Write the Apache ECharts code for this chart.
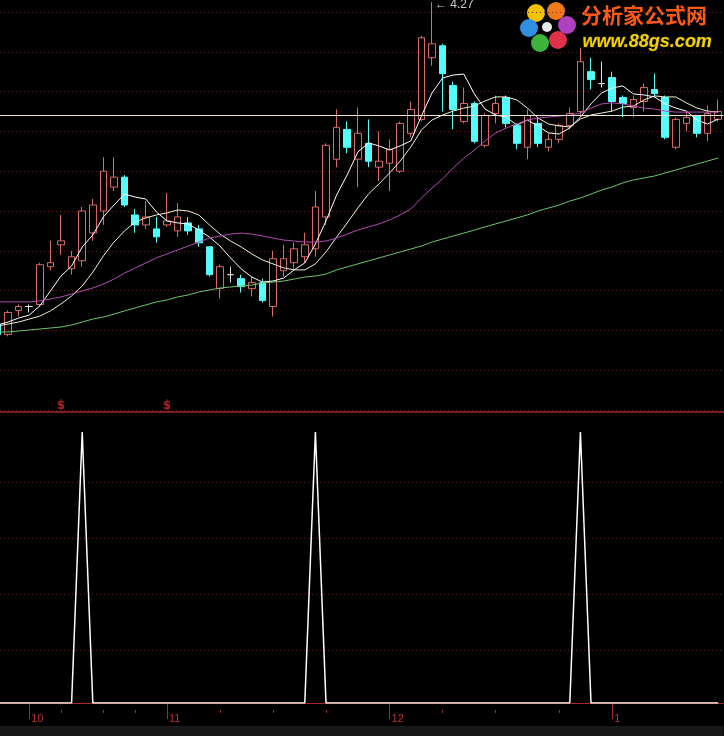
<!DOCTYPE html>
<html><head><meta charset="utf-8">
<script src="https://cdn.jsdelivr.net/npm/echarts@6/dist/echarts.min.js"></script>
<style>html,body{margin:0;padding:0;background:#000;}#c{width:724px;height:736px;}</style>
</head><body><div id="c"></div>
<script>
const dates = ['09-27','09-28','09-29',
'10-08','10-11','10-12','10-13','10-14','10-15','10-18','10-19','10-20','10-21','10-22','10-25','10-26',
'11-01','11-02','11-03','11-04','11-05','11-08','11-09','11-10','11-11','11-12','11-15','11-16','11-17','11-18','11-19','11-22','11-23','11-24','11-25','11-26','11-29',
'12-01','12-02','12-03','12-06','12-07','12-08','12-09','12-10','12-13','12-14','12-15','12-16','12-17','12-20','12-21','12-22','12-23','12-24','12-27','12-28','12-29',
'01-04','01-05','01-06','01-07','01-10','01-11','01-12','01-13','01-14','01-17','01-18'];
// [open, close, low, high]
const ohlc = [
[2.65,2.60,2.59,2.66],[2.60,2.71,2.59,2.72],[2.72,2.74,2.69,2.75],[2.74,2.74,2.71,2.75],[2.75,2.95,2.74,2.96],
[2.94,2.96,2.92,3.07],[3.05,3.07,3.00,3.20],[2.93,2.99,2.90,3.02],[2.97,3.22,2.94,3.24],[3.11,3.25,3.07,3.28],
[3.22,3.42,3.15,3.49],[3.34,3.39,3.32,3.49],[3.39,3.25,3.24,3.40],[3.20,3.15,3.11,3.23],[3.15,3.19,3.13,3.27],
[3.13,3.09,3.06,3.19],[3.15,3.17,3.14,3.31],[3.12,3.19,3.09,3.26],[3.16,3.12,3.10,3.19],[3.13,3.06,3.04,3.15],
[3.04,2.90,2.89,3.04],[2.83,2.94,2.78,2.95],[2.90,2.90,2.86,2.94],[2.88,2.84,2.81,2.90],[2.83,2.86,2.79,2.89],
[2.86,2.77,2.76,2.88],[2.74,2.98,2.69,3.02],[2.92,2.98,2.89,3.05],[2.96,3.03,2.93,3.06],[2.99,3.05,2.96,3.11],
[3.03,3.24,2.99,3.32],[3.19,3.55,3.15,3.56],[3.48,3.64,3.44,3.73],[3.63,3.54,3.51,3.67],[3.48,3.61,3.34,3.74],
[3.56,3.47,3.44,3.68],[3.44,3.47,3.37,3.62],[3.46,3.53,3.32,3.58],[3.42,3.66,3.41,3.67],[3.61,3.73,3.59,3.77],
[3.68,4.09,3.67,4.10],[3.99,4.06,3.95,4.27],[4.05,3.91,3.72,4.06],[3.85,3.73,3.63,3.87],[3.67,3.76,3.66,3.84],
[3.76,3.57,3.56,3.77],[3.55,3.70,3.54,3.71],[3.71,3.76,3.66,3.80],[3.79,3.66,3.64,3.80],[3.65,3.56,3.53,3.66],
[3.54,3.70,3.48,3.73],[3.66,3.56,3.54,3.69],[3.54,3.58,3.52,3.61],[3.58,3.65,3.56,3.66],[3.65,3.71,3.63,3.74],
[3.72,3.97,3.70,4.04],[3.92,3.88,3.83,3.99],[3.86,3.86,3.84,3.97],[3.89,3.77,3.72,3.92],[3.79,3.76,3.69,3.80],
[3.74,3.78,3.69,3.80],[3.77,3.84,3.72,3.86],[3.83,3.81,3.79,3.91],[3.79,3.59,3.58,3.80],[3.54,3.68,3.53,3.69],
[3.66,3.69,3.62,3.72],[3.70,3.61,3.59,3.70],[3.61,3.71,3.57,3.75],[3.68,3.72,3.67,3.78]];
const ma5 = [2.647,2.662,2.682,2.697,2.743,2.818,2.893,2.944,3.039,3.099,3.190,3.250,3.305,3.290,3.280,3.215,3.170,3.160,3.155,3.124,3.089,3.044,2.984,2.929,2.888,2.863,2.868,2.883,2.924,2.959,3.054,3.170,3.300,3.401,3.516,3.562,3.547,3.526,3.547,3.572,3.697,3.813,3.888,3.903,3.908,3.808,3.732,3.702,3.692,3.652,3.677,3.647,3.612,3.607,3.637,3.692,3.758,3.813,3.838,3.848,3.808,3.803,3.793,3.758,3.737,3.722,3.677,3.657,3.682];
const ma10 = [2.642,2.652,2.662,2.677,2.692,2.718,2.753,2.793,2.843,2.913,2.994,3.064,3.120,3.165,3.185,3.200,3.210,3.225,3.220,3.200,3.150,3.104,3.069,3.039,3.004,2.974,2.954,2.934,2.924,2.924,2.954,3.014,3.089,3.160,3.235,3.305,3.356,3.411,3.471,3.541,3.627,3.677,3.702,3.722,3.737,3.747,3.773,3.793,3.793,3.778,3.737,3.687,3.657,3.647,3.642,3.682,3.702,3.712,3.722,3.742,3.747,3.778,3.798,3.793,3.793,3.763,3.737,3.722,3.717];
const ma30 = [2.763,2.763,2.763,2.763,2.768,2.778,2.788,2.803,2.818,2.833,2.853,2.878,2.908,2.934,2.959,2.984,3.004,3.024,3.044,3.064,3.084,3.094,3.104,3.109,3.104,3.094,3.084,3.074,3.069,3.064,3.064,3.069,3.084,3.104,3.124,3.140,3.155,3.175,3.200,3.230,3.285,3.335,3.381,3.436,3.486,3.526,3.572,3.612,3.637,3.657,3.677,3.687,3.692,3.697,3.702,3.712,3.737,3.758,3.763,3.758,3.747,3.737,3.732,3.722,3.717,3.717,3.717,3.717,3.717];
const ma60 = [2.612,2.612,2.617,2.622,2.627,2.632,2.637,2.647,2.662,2.677,2.687,2.702,2.718,2.733,2.748,2.763,2.773,2.788,2.798,2.813,2.823,2.833,2.838,2.843,2.848,2.858,2.863,2.868,2.878,2.888,2.893,2.903,2.924,2.939,2.954,2.969,2.984,2.999,3.014,3.029,3.044,3.064,3.079,3.094,3.109,3.124,3.140,3.155,3.170,3.185,3.200,3.220,3.235,3.250,3.270,3.285,3.305,3.325,3.341,3.361,3.376,3.386,3.396,3.411,3.426,3.441,3.456,3.471,3.486];
const signal = [0,0,0,0,0,0,0,0,1,0,0,0,0,0,0,0,0,0,0,0,0,0,0,0,0,0,0,0,0,0,1,0,0,0,0,0,0,0,0,0,0,0,0,0,0,0,0,0,0,0,0,0,0,0,0,1,0,0,0,0,0,0,0,0,0,0,0,0,0];
const dollarIdx = [6, 16];
const dollarLevel = 2.24;
const refLine = 3.70;
const peak = {idx: 41, value: 4.27, text: '4.27'};
const minorTickIdx = [6, 10, 13, 21, 26, 31, 42, 47, 53];

const L = -7.9, W = 731.4;
const isMonthStart = (i) => i > 0 && dates[i].slice(0,2) !== dates[i-1].slice(0,2);
const RED = '#a52a2a';
const GRIDC = '#6e2424';
const gbase = {left: L, width: W, outerBoundsMode: 'none', containLabel: false};

const chart = echarts.init(document.getElementById('c'), null, {renderer:'canvas'});
chart.setOption({
  backgroundColor: '#000',
  animation: false,
  grid: [
    Object.assign({top: 0, height: 412}, gbase),
    Object.assign({top: 12, height: 398}, gbase),
    Object.assign({top: 432, height: 271}, gbase),
    Object.assign({top: 482, height: 168}, gbase),
    Object.assign({top: 726, height: 10, show: true, backgroundColor: '#181818', borderWidth: 0}, gbase)
  ],
  xAxis: [
    {gridIndex:0, type:'category', data: dates, boundaryGap: true,
     axisLine:{show:true, lineStyle:{color:RED, width:1.5}}, axisTick:{show:false}, axisLabel:{show:false}, splitLine:{show:false}},
    {gridIndex:1, type:'category', data: dates, show:false},
    {gridIndex:2, type:'category', data: dates, offset: 7,
     axisLine:{show:true, lineStyle:{color:RED, width:1}},
     axisTick:{show:true, alignWithLabel:true, interval:(i)=>isMonthStart(i), length:16, lineStyle:{color:RED}},
     axisLabel:{show:true, interval:(i)=>isMonthStart(i), formatter:(v)=>String(parseInt(v.slice(0,2),10)),
       color:'#c03030', fontSize:11, fontFamily:'Liberation Sans Narrow, Liberation Sans, sans-serif', align:'left', margin:3, padding:[0,0,0,2]},
     splitLine:{show:false}},
    {gridIndex:3, type:'category', data: dates, show:false},
    {gridIndex:4, type:'category', data: dates, position:'top',
     axisLine:{show:true, lineStyle:{color:RED, width:1}}, axisTick:{show:false}, axisLabel:{show:false}},
    {gridIndex:2, type:'category', data: dates, position:'bottom', offset: 7,
     axisLine:{show:false}, axisLabel:{show:false},
     axisTick:{show:true, alignWithLabel:true, interval:(i)=>minorTickIdx.indexOf(i) >= 0, length:3, lineStyle:{color:RED}}}
  ],
  yAxis: [
    {gridIndex:0, type:'value', min:2.21, max:4.28, show:false, scale:true},
    {gridIndex:1, type:'value', min:0, max:10, interval:1,
     axisLine:{show:false}, axisTick:{show:false}, axisLabel:{show:false},
     splitLine:{show:true, lineStyle:{color:GRIDC, type:[1,3], width:1}}},
    {gridIndex:2, type:'value', min:0, max:1, show:false},
    {gridIndex:3, type:'value', min:0, max:3, interval:1,
     axisLine:{show:false}, axisTick:{show:false}, axisLabel:{show:false},
     splitLine:{show:true, lineStyle:{color:GRIDC, type:[1,3], width:1}}},
    {gridIndex:4, type:'value', show:false}
  ],
  series: [
    {type:'candlestick', xAxisIndex:0, yAxisIndex:0, data: ohlc, barWidth: 7,
     itemStyle:{color:'rgba(0,0,0,0)', color0:'#54fcfc', borderColor:'#d86a6a', borderColor0:'#54fcfc', borderColorDoji:'#e0e0e0', borderWidth:1},
     markLine:{silent:true, symbol:'none', label:{show:false}, data:[{yAxis: refLine}],
       lineStyle:{color:'#efe4c8', type:'solid', width:1}},
     markPoint:{silent:true, symbol:'circle', symbolSize:0,
       data:[{coord:[peak.idx, peak.value], value: peak.text}],
       label:{show:true, position:'right', distance:3, offset:[0,3], formatter:'← {c}', color:'#c8c8c8', fontSize:12, fontFamily:'Liberation Sans, sans-serif'}}
    },
    {type:'line', name:'MA5', xAxisIndex:0, yAxisIndex:0, data: ma5, symbol:'none', lineStyle:{color:'#ffffff', width:1}},
    {type:'line', name:'MA10', xAxisIndex:0, yAxisIndex:0, data: ma10, symbol:'none', lineStyle:{color:'#f3efd2', width:1}},
    {type:'line', name:'MA30', xAxisIndex:0, yAxisIndex:0, data: ma30, symbol:'none', lineStyle:{color:'#b04cb0', width:1}},
    {type:'line', name:'MA60', xAxisIndex:0, yAxisIndex:0, data: ma60, symbol:'none', lineStyle:{color:'#6cc46c', width:1}},
    {type:'scatter', xAxisIndex:0, yAxisIndex:0, data: dollarIdx.map(i=>[i, dollarLevel]), symbolSize:1,
     itemStyle:{color:'rgba(0,0,0,0)'},
     label:{show:true, position:'inside', formatter:'$', color:'#d42a2a', fontSize:12, fontWeight:'bold', fontFamily:'DejaVu Sans, sans-serif'}},
    {type:'line', xAxisIndex:2, yAxisIndex:2, data: signal, symbol:'none', lineStyle:{color:'#ffffff', width:1.5}}
  ],
  graphic: [
    {type:'group', left: 520, top: 2, children: [
      {type:'circle', shape:{cx:18, cy:11, r:9}, style:{fill:'#f2c200'}},
      {type:'circle', shape:{cx:38, cy:9, r:9}, style:{fill:'#f07a1a'}},
      {type:'circle', shape:{cx:49, cy:23, r:9}, style:{fill:'#b040c0'}},
      {type:'circle', shape:{cx:40, cy:38, r:9}, style:{fill:'#e0304a'}},
      {type:'circle', shape:{cx:22, cy:41, r:9}, style:{fill:'#3cb43c'}},
      {type:'circle', shape:{cx:11, cy:26, r:9}, style:{fill:'#2f8fe0'}},
      {type:'circle', shape:{cx:29, cy:25, r:5}, style:{fill:'#e8e8e8'}}
    ]},
    {type:'text', left: 581, top: 5, style:{text:'分析家公式网', fill:'#ff5a14', font:'bold 21px "Noto Sans CJK SC", sans-serif'}},
    {type:'text', left: 582, top: 33, style:{text:'www.88gs.com', fill:'#f2d200', stroke:'#3a2a00', lineWidth:1, font:'italic bold 18px "Liberation Sans", sans-serif'}}
  ]
});
</script></body></html>
